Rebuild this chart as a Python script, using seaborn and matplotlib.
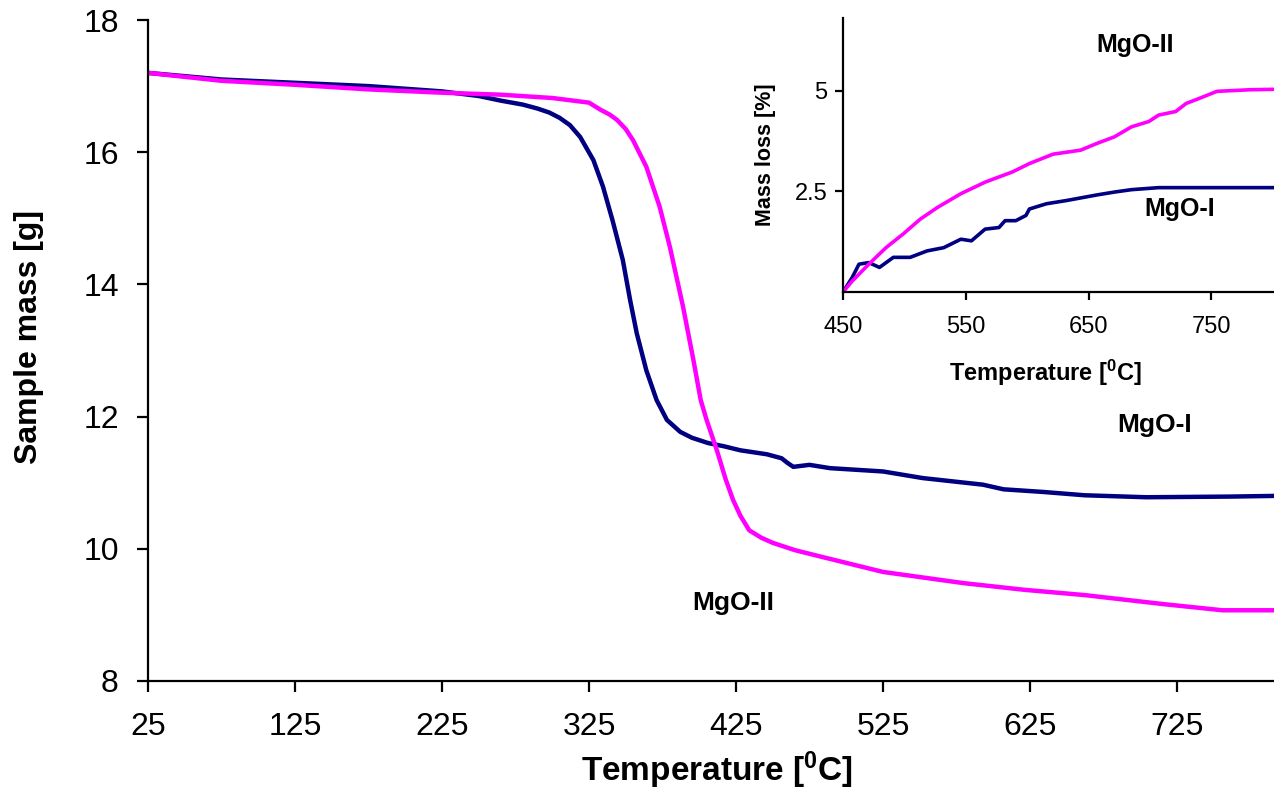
import numpy as np
import pandas as pd
import matplotlib
matplotlib.use("Agg")
import matplotlib.pyplot as plt
import seaborn as sns

# ---- main TGA curves: temperature [C] and sample mass [g] ----
t_mgo1 = [25, 75, 125, 175, 225, 250, 265, 280, 290, 298, 305, 312, 319, 328, 334.5, 341, 348,
          353, 357.5, 364, 371, 378, 387, 395, 406, 417, 428, 446, 456, 460, 464, 475, 489,
          525, 552, 593, 607, 634, 662, 704, 761, 791]
m_mgo1 = [17.2, 17.1, 17.05, 17.0, 16.92, 16.85, 16.78, 16.72, 16.66, 16.6, 16.52, 16.41, 16.23,
          15.88, 15.48, 14.97, 14.37, 13.76, 13.26, 12.7, 12.25, 11.95, 11.77, 11.68, 11.6, 11.55,
          11.49, 11.43, 11.37, 11.3, 11.24, 11.27, 11.22, 11.17, 11.07, 10.97, 10.9, 10.86, 10.81,
          10.78, 10.79, 10.8]

t_mgo2 = [25, 75, 125, 175, 225, 265, 300, 325, 333, 339, 344, 350, 355, 364, 373, 380, 389, 396,
          401, 405, 412, 418, 423, 428, 434, 442, 450, 465, 483, 525, 580, 621, 662, 717, 756, 791]
m_mgo2 = [17.2, 17.08, 17.02, 16.95, 16.9, 16.87, 16.82, 16.75, 16.64, 16.57, 16.49, 16.35, 16.18,
          15.78, 15.18, 14.57, 13.66, 12.86, 12.25, 11.95, 11.49, 11.05, 10.74, 10.5, 10.28, 10.17,
          10.09, 9.98, 9.88, 9.65, 9.48, 9.38, 9.3, 9.16, 9.07, 9.07]

# ---- inset: mass loss [%] above 450 C ----
ti_mgo2 = [450, 457.5, 471, 485, 499, 513, 527, 546, 566, 588, 602, 621, 643.5, 657, 671, 685, 699,
           707, 721, 729.5, 740.6, 754.5, 782, 801]
li_mgo2 = [0, 0.27, 0.69, 1.1, 1.44, 1.81, 2.1, 2.44, 2.73, 2.98, 3.19, 3.42, 3.52, 3.69, 3.85, 4.1,
           4.23, 4.39, 4.48, 4.68, 4.81, 4.98, 5.02, 5.03]
ti_mgo1 = [450, 457.5, 463, 471, 479.7, 491, 504.7, 518.5, 532, 546, 554.6, 565.7, 577, 582, 590.7,
           599, 601.8, 615.7, 632, 657, 671, 685, 707, 801]
li_mgo1 = [0, 0.36, 0.69, 0.73, 0.61, 0.86, 0.86, 1.02, 1.1, 1.31, 1.27, 1.56, 1.6, 1.77, 1.77, 1.9,
           2.06, 2.19, 2.27, 2.41, 2.48, 2.54, 2.59, 2.59]

main_xticks = [25, 125, 225, 325, 425, 525, 625, 725]
main_yticks = [8, 10, 12, 14, 16, 18]
inset_xticks = [450, 550, 650, 750]
inset_yticks = [2.5, 5]
inset_yticklabels = ["2.5", "5"]

NAVY = "#000080"
MAGENTA = "#FF00FF"

sns.set_style("ticks")
plt.rcParams["font.family"] = ["Liberation Sans", "DejaVu Sans"]
plt.rcParams["text.color"] = "black"
plt.rcParams["axes.labelcolor"] = "black"
plt.rcParams["axes.edgecolor"] = "black"
plt.rcParams["axes.linewidth"] = 1.6
plt.rcParams["xtick.major.width"] = 1.6
plt.rcParams["ytick.major.width"] = 1.6

W, H = 1274, 789
fig = plt.figure(figsize=(W / 100, H / 100), dpi=100)

ax = fig.add_axes([148 / W, 1 - 681 / H, (W - 148) / W, (681 - 20) / H])
df_main = pd.concat([
    pd.DataFrame({"T": t_mgo1, "m": m_mgo1, "s": "MgO-I"}),
    pd.DataFrame({"T": t_mgo2, "m": m_mgo2, "s": "MgO-II"}),
])
sns.lineplot(data=df_main, x="T", y="m", hue="s", palette={"MgO-I": NAVY, "MgO-II": MAGENTA},
             estimator=None, sort=False, linewidth=3.2, legend=False, ax=ax)
ax.set_xlim(25, 791)
ax.set_ylim(8, 18)
ax.set_xticks(main_xticks)
ax.set_yticks(main_yticks)
ax.tick_params(axis="both", which="major", labelsize=23, length=8, direction="out",
               colors="black")
ax.tick_params(axis="x", pad=14)
ax.tick_params(axis="y", pad=13)
sns.despine(ax=ax)
ax.set_xlabel("Temperature [$\\mathregular{^0}$C]", fontsize=24, fontweight="bold")
ax.set_ylabel("Sample mass [g]", fontsize=23, fontweight="bold")
ax.xaxis.set_label_coords(0.505, -0.104)
ax.yaxis.set_label_coords(-0.092, 0.52)
ax.text(710, 11.87, "MgO-I", fontsize=19, fontweight="bold", ha="center", va="center")
ax.text(423, 9.18, "MgO-II", fontsize=19, fontweight="bold", ha="center", va="center")

ins = fig.add_axes([843 / W, 1 - 292 / H, (W - 843) / W, (292 - 18) / H])
ins.patch.set_alpha(0)
df_in = pd.concat([
    pd.DataFrame({"T": ti_mgo1, "l": li_mgo1, "s": "MgO-I"}),
    pd.DataFrame({"T": ti_mgo2, "l": li_mgo2, "s": "MgO-II"}),
])
sns.lineplot(data=df_in, x="T", y="l", hue="s", palette={"MgO-I": NAVY, "MgO-II": MAGENTA},
             estimator=None, sort=False, linewidth=2.6, legend=False, ax=ins)
ins.set_xlim(450, 801)
ins.set_ylim(0, 6.8)
ins.set_xticks(inset_xticks)
ins.set_yticks(inset_yticks)
ins.set_yticklabels(inset_yticklabels)
ins.tick_params(axis="both", which="major", labelsize=17, length=6, direction="out",
                colors="black")
ins.tick_params(axis="x", pad=11)
ins.tick_params(axis="y", pad=5)
sns.despine(ax=ins)
ins.set_xlabel("Temperature [$\\mathregular{^0}$C]", fontsize=17, fontweight="bold")
ins.set_ylabel("Mass loss [%]", fontsize=15.5, fontweight="bold")
ins.xaxis.set_label_coords(0.471, -0.24)
ins.yaxis.set_label_coords(-0.155, 0.5)
ins.text(688, 6.14, "MgO-II", fontsize=18, fontweight="bold", ha="center", va="center")
ins.text(724.6, 2.06, "MgO-I", fontsize=18, fontweight="bold", ha="center", va="center")

fig.savefig("out.png", dpi=100)
